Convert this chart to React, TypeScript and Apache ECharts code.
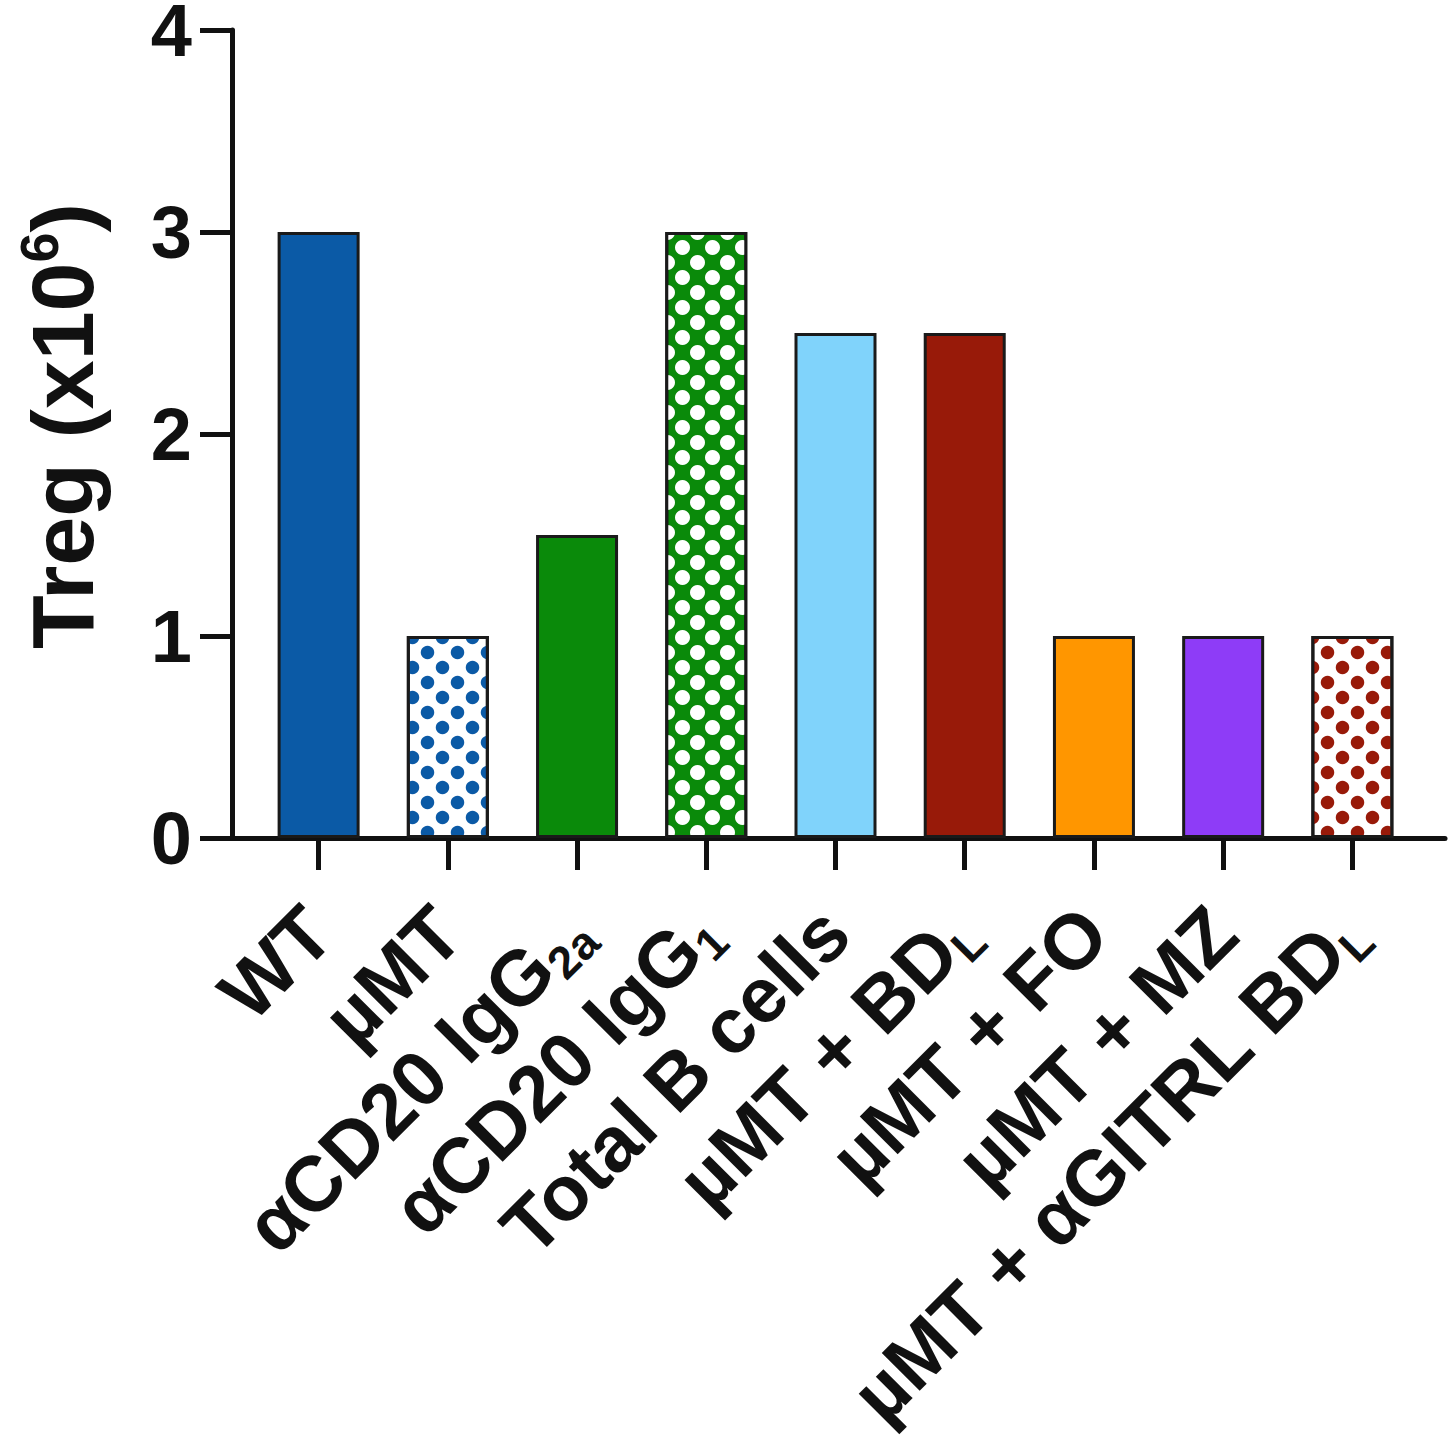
import React, { useEffect, useRef } from "react";
import * as echarts from "echarts";

const categories = [
  "WT",
  "µMT",
  "αCD20 IgG2a",
  "αCD20 IgG1",
  "Total B cells",
  "µMT + BDL",
  "µMT + FO",
  "µMT + MZ",
  "µMT + αGITRL BDL",
];
const subscripts = ["", "", "2a", "1", "", "L", "", "", "L"];
const values = [3, 1, 1.5, 3, 2.5, 2.5, 1, 1, 1];
const fillColors = ["#0b5aa6", "#ffffff", "#0a8a0a", "#0a8a0a", "#80d3fb", "#981a09", "#ff9600", "#8e3cf7", "#ffffff"];
const dotColors = ["", "#0b5aa6", "", "#ffffff", "", "", "", "", "#981a09"];
const yTicks = [0, 1, 2, 3, 4];

const FONT = "'Liberation Sans', Arial, Helvetica, sans-serif";

export default function App() {
  const ref = useRef<HTMLDivElement>(null);
  useEffect(() => {
    if (!ref.current) return;
    const chart = echarts.init(ref.current, null, { renderer: "svg" });
    const gridTop = 30;
    const gridBottom = 612;
    const data = values.map((v, i) => {
      const item: any = {
        value: v,
        itemStyle: {
          color: fillColors[i],
          borderColor: "#1a1a1a",
          borderWidth: 3,
        },
      };
      if (dotColors[i]) {
        item.itemStyle.decal = {
          symbol: "circle",
          symbolSize: dotColors[i] === "#ffffff" ? 1 : 0.9,
          color: dotColors[i],
          dashArrayX: [
            [15, 15],
            [0, 15, 15, 0],
          ],
          dashArrayY: [15, 0],
          rotation: 0,
        };
      }
      return item;
    });
    chart.setOption({
      animation: false,
      backgroundColor: "#ffffff",
      grid: [
        { left: 254, right: 33, top: gridTop, bottom: gridBottom, outerBoundsMode: "none", containLabel: false },
        { left: 232, right: 5, top: gridTop, bottom: gridBottom, outerBoundsMode: "none", containLabel: false },
      ],
      xAxis: [
        {
          type: "category",
          gridIndex: 0,
          data: categories,
          axisLine: { show: false },
          axisTick: {
            show: true,
            alignWithLabel: true,
            length: 32,
            lineStyle: { color: "#111", width: 5 },
          },
          axisLabel: {
            interval: 0,
            rotate: 45,
            margin: 82,
            color: "#111",
            formatter: (v: string, i: number) => {
              const sub = subscripts[i];
              if (sub) {
                return `{m|${v.slice(0, v.length - sub.length)}}{s|${sub}}`;
              }
              return `{m|${v}}`;
            },
            rich: {
              m: {
                fontSize: 78,
                fontWeight: "bold",
                fontFamily: FONT,
                color: "#111",
                lineHeight: 86,
              },
              s: {
                fontSize: 46,
                fontWeight: "bold",
                fontFamily: FONT,
                color: "#111",
                textBorderWidth: 0,
                lineHeight: 46,
                verticalAlign: "bottom",
              },
            },
          },
          splitLine: { show: false },
        },
        {
          type: "value",
          gridIndex: 1,
          min: 0,
          max: 1,
          axisLine: { show: true, onZero: false, lineStyle: { color: "#111", width: 5 } },
          axisTick: { show: false },
          axisLabel: { show: false },
          splitLine: { show: false },
        },
      ],
      yAxis: [
        {
          type: "value",
          gridIndex: 0,
          min: 0,
          max: 4,
          show: false,
          splitLine: { show: false },
        },
        {
          type: "value",
          gridIndex: 1,
          min: 0,
          max: 4,
          interval: 1,
          axisLine: { show: true, onZero: false, lineStyle: { color: "#111", width: 5 } },
          axisTick: { show: true, length: 32, lineStyle: { color: "#111", width: 5 } },
          axisLabel: {
            margin: 40,
            fontSize: 74,
            lineHeight: 56,
            fontWeight: "bold",
            fontFamily: FONT,
            color: "#111",
            formatter: (v: number) => (yTicks.includes(v) ? String(v) : ""),
          },
          splitLine: { show: false },
          name: "{a|Treg (x10}{s|6}{a|)}",
          nameLocation: "middle",
          nameRotate: 90,
          nameGap: 120,
          nameTextStyle: {
            padding: [0, 0, 0, 16],
            rich: {
              a: {
                fontSize: 88,
                fontWeight: "bold",
                fontFamily: FONT,
                color: "#111",
                lineHeight: 100,
              },
              s: {
                fontSize: 54,
                fontWeight: "bold",
                fontFamily: FONT,
                color: "#111",
                lineHeight: 54,
                verticalAlign: "top",
              },
            },
          },
        },
      ],
      series: [
        {
          type: "bar",
          xAxisIndex: 0,
          yAxisIndex: 0,
          barWidth: 82,
          data,
        },
      ],
    });
    return () => chart.dispose();
  }, []);
  return (
    <div
      ref={ref}
      style={{ position: "fixed", left: 0, top: 0, width: 1450, height: 1450, background: "#fff" }}
    />
  );
}
